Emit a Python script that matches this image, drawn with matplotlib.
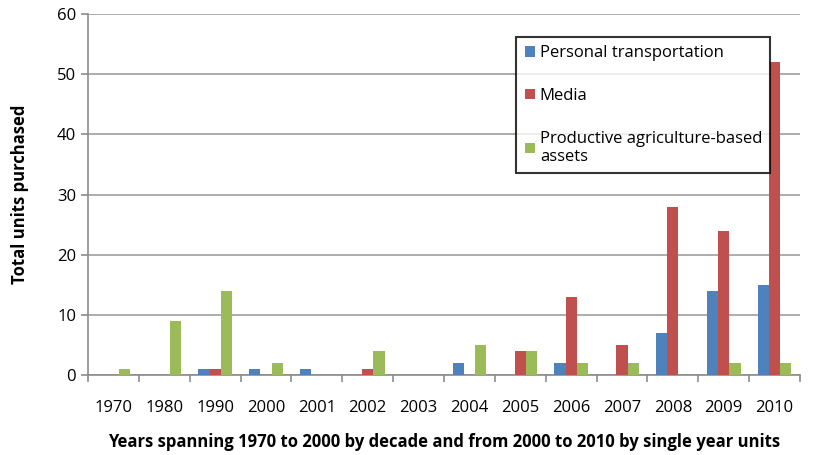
import numpy as np
import matplotlib.pyplot as plt

years = ["1970", "1980", "1990", "2000", "2001", "2002", "2003",
         "2004", "2005", "2006", "2007", "2008", "2009", "2010"]
transport = [0, 0, 1, 1, 1, 0, 0, 2, 0, 2, 0, 7, 14, 15]
media = [0, 0, 1, 0, 0, 1, 0, 0, 4, 13, 5, 28, 24, 52]
agri = [1, 9, 14, 2, 0, 4, 0, 5, 4, 2, 2, 0, 2, 2]

plt.rcParams['font.family'] = ['Open Sans', 'DejaVu Sans']

fig = plt.figure(figsize=(8.18, 4.55), dpi=100)
ax = fig.add_axes([0.1076, 0.176, 0.8704, 0.793])

x = np.arange(len(years))
w = 0.22
ax.bar(x - w, transport, w, color="#4F81BD", label="Personal transportation", zorder=3)
ax.bar(x, media, w, color="#C0504D", label="Media", zorder=3)
ax.bar(x + w, agri, w, color="#9BBB59", label="Productive agriculture-based\nassets", zorder=3)

ax.set_xlim(-0.5, len(years) - 0.5)
ax.set_ylim(0, 60)
ax.set_yticks(range(0, 61, 10))
ax.yaxis.grid(True, color="#A6A6A6", lw=1.3, zorder=0)
ax.set_axisbelow(True)

ax.set_xticks(x)
ax.set_xticklabels(years)
ax.set_xticks(np.arange(-0.5, len(years), 1), minor=True)
ax.tick_params(axis="x", which="major", length=0, pad=18, labelsize=12)
ax.tick_params(axis="x", which="minor", length=5, color="#8C8C8C", width=1.2)
ax.tick_params(axis="y", length=5, color="#8C8C8C", width=1.2, labelsize=12, direction="out")

for s in ["top", "right"]:
    ax.spines[s].set_visible(False)
for s in ["left", "bottom"]:
    ax.spines[s].set_color("#8C8C8C")
    ax.spines[s].set_linewidth(1.2)

ax.set_ylabel("Total units purchased", fontsize=12, fontweight="bold", labelpad=20)
ax.set_xlabel("Years spanning 1970 to 2000 by decade and from 2000 to 2010 by single year units",
              fontsize=12, fontweight="bold", labelpad=12)

leg = ax.legend(loc="upper left", bbox_to_anchor=(0.59, 0.96), fontsize=12,
                frameon=True, fancybox=False, handlelength=0.6, handleheight=0.6,
                handletextpad=0.3, labelspacing=1.6, borderpad=0.5)
leg.get_frame().set_edgecolor("black")
leg.get_frame().set_linewidth(1.5)

fig.savefig("out.png", dpi=100)
